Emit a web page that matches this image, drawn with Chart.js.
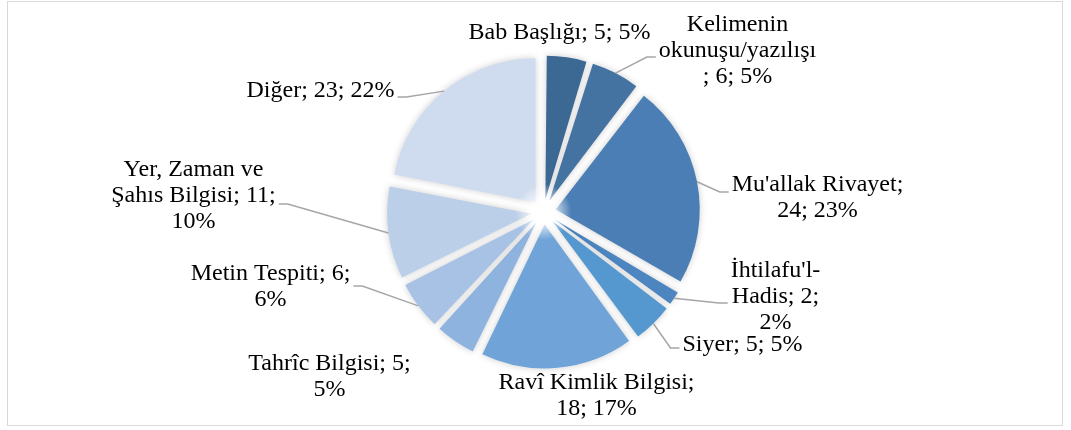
<!DOCTYPE html>
<html><head><meta charset="utf-8">
<script src="https://cdn.jsdelivr.net/npm/chart.js@4.4.1/dist/chart.umd.min.js"></script>
<style>
html,body{margin:0;padding:0;background:#fff;}
#wrap{position:relative;width:1071px;height:430px;}
#frame{position:absolute;left:7px;top:1px;width:1056px;height:425px;border:1px solid #d9d9d9;box-sizing:border-box;}
canvas{position:absolute;left:0;top:0;}
</style></head><body>
<div id="wrap"><div id="frame"></div><canvas id="c" width="1071" height="430"></canvas></div>
<script>
// ---- data ----
const categories = ['Bab Başlığı','Kelimenin okunuşu/yazılışı',"Mu'allak Rivayet","İhtilafu'l-Hadis",'Siyer','Ravî Kimlik Bilgisi','Tahrîc Bilgisi','Metin Tespiti','Yer, Zaman ve Şahıs Bilgisi','Diğer'];
const values = [5, 6, 24, 2, 5, 18, 5, 6, 11, 23];
const percentLabels = ['5%','5%','23%','2%','5%','17%','5%','6%','10%','22%'];
// label text, wrapped as in the reference
const labelLines = [
  ['Bab Başlığı; 5; 5%'],
  ['Kelimenin','okunuşu/yazılışı','; 6; 5%'],
  ["Mu'allak Rivayet;",'24; 23%'],
  ["İhtilafu'l-",'Hadis; 2;','2%'],
  ['Siyer; 5; 5%'],
  ['Ravî Kimlik Bilgisi;','18; 17%'],
  ['Tahrîc Bilgisi; 5;','5%'],
  ['Metin Tespiti; 6;','6%'],
  ['Yer, Zaman ve','Şahıs Bilgisi; 11;','10%'],
  ['Diğer; 23; 22%']
];

// ---- style / layout ----
const colors = ['#3c6894','#4473a2','#4a7eb5','#4c85bf','#5597cf','#70a4d8','#8fb3df','#a8c2e5','#bbcfe9','#cfdcef'];
const labelOffsets = [[16,-179],[194,-161],[274,-14],[232,85],[199,133],[53,184],[-214,165],[-273,75],[-350,-16],[-223,-121]];
const showLeader = [false,true,true,true,true,false,false,true,true,true];
const leaderDy = [0,6,-6,6,3,0,0,-1,8,6];
const PIE_R = 144;
const EXPLODE = 50; // chart.js offset (translation = offset/4)
const FONT = '24px "Liberation Serif", "Times New Roman", serif';
const LINE_H = 26;

const radiusFix = {
  id: 'radiusFix',
  afterDatasetUpdate(chart, args) {
    args.meta.data.forEach(arc => {
      const c = arc.circumference;
      const fix = 1 - Math.sin(Math.min(Math.PI, c));
      arc.outerRadius = PIE_R - (EXPLODE / 4) * fix;
    });
  }
};

const effects = {
  id: 'effects',
  beforeDatasetsDraw(chart) {
    const ctx = chart.ctx;
    ctx.save();
    ctx.shadowColor = 'rgba(0,0,0,0.2)';
    ctx.shadowBlur = 7;
  },
  afterDatasetsDraw(chart) {
    const ctx = chart.ctx;
    ctx.restore();
    const arc0 = chart.getDatasetMeta(0).data[0];
    const g = ctx.createRadialGradient(arc0.x, arc0.y, 0, arc0.x, arc0.y, 28);
    g.addColorStop(0, 'rgba(255,255,255,1)');
    g.addColorStop(0.4, 'rgba(255,255,255,0.75)');
    g.addColorStop(1, 'rgba(255,255,255,0)');
    ctx.save();
    ctx.fillStyle = g;
    ctx.beginPath();
    ctx.arc(arc0.x, arc0.y, 28, 0, Math.PI * 2);
    ctx.fill();
    ctx.restore();
  }
};

const labelsPlugin = {
  id: 'pieLabels',
  afterDraw(chart) {
    const ctx = chart.ctx;
    const meta = chart.getDatasetMeta(0);
    ctx.save();
    ctx.font = FONT;
    ctx.textAlign = 'center';
    ctx.textBaseline = 'middle';
    meta.data.forEach((arc, i) => {
      const cx = arc.x, cy = arc.y;
      const lines = labelLines[i];
      const lx = cx + labelOffsets[i][0];
      const ly = cy + labelOffsets[i][1];
      const w = Math.max(...lines.map(t => ctx.measureText(t).width));
      if (showLeader[i]) {
        const mid = (arc.startAngle + arc.endAngle) / 2;
        const rr = PIE_R + EXPLODE / 4;
        const sx = cx + Math.cos(mid) * rr;
        const sy = cy + Math.sin(mid) * rr;
        const right = lx > sx;
        const ex = right ? lx - w / 2 - 3 : lx + w / 2 + 3;
        const ey = ly + leaderDy[i];
        const bx = right ? ex - 9 : ex + 9;
        ctx.strokeStyle = '#a6a6a6';
        ctx.lineWidth = 1.5;
        ctx.beginPath();
        ctx.moveTo(sx, sy);
        ctx.lineTo(bx, ey);
        ctx.lineTo(ex, ey);
        ctx.stroke();
      }
      ctx.fillStyle = '#000';
      const top = ly - (lines.length - 1) * LINE_H / 2;
      lines.forEach((t, k) => ctx.fillText(t, lx, top + k * LINE_H));
    });
    ctx.restore();
  }
};

new Chart(document.getElementById('c'), {
  type: 'pie',
  data: {
    labels: categories,
    datasets: [{
      data: values,
      backgroundColor: colors,
      borderWidth: 0,
      offset: EXPLODE,
      radius: PIE_R
    }]
  },
  options: {
    responsive: false,
    animation: false,
    layout: { padding: { left: 116, right: 100, top: 44, bottom: 50 } },
    plugins: { legend: { display: false }, tooltip: { enabled: false } }
  },
  plugins: [radiusFix, effects, labelsPlugin]
});
</script>
</body></html>
